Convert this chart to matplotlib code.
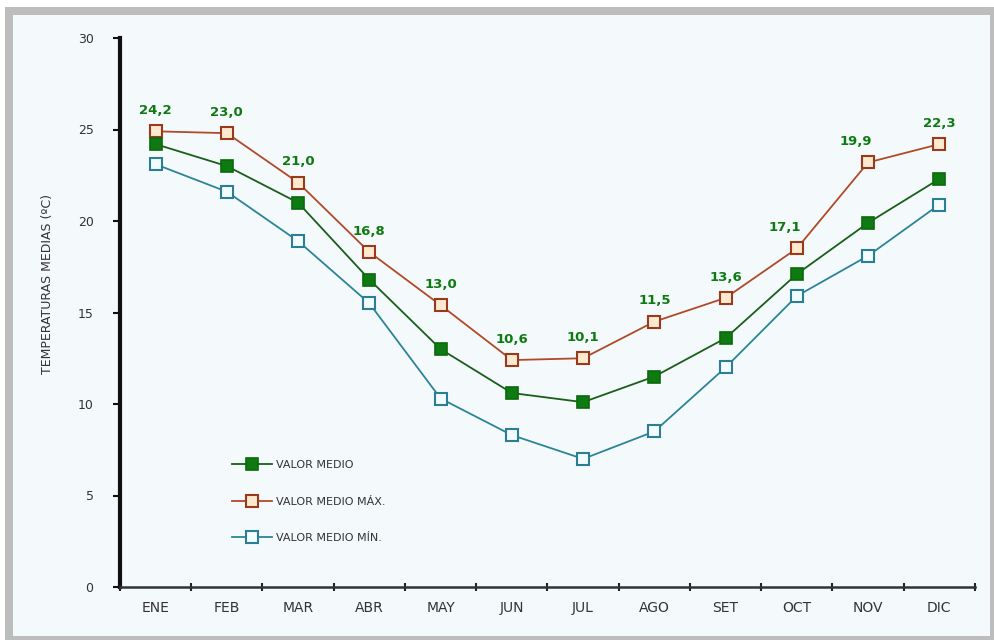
import matplotlib
matplotlib.use("Agg")
import matplotlib.pyplot as plt
from matplotlib.patches import Rectangle

months = ["ENE", "FEB", "MAR", "ABR", "MAY", "JUN", "JUL", "AGO", "SET", "OCT", "NOV", "DIC"]
medio = [24.2, 23.0, 21.0, 16.8, 13.0, 10.6, 10.1, 11.5, 13.6, 17.1, 19.9, 22.3]
medio_max = [24.9, 24.8, 22.1, 18.3, 15.4, 12.4, 12.5, 14.5, 15.8, 18.5, 23.2, 24.2]
medio_min = [23.1, 21.6, 18.9, 15.5, 10.3, 8.3, 7.0, 8.5, 12.0, 15.9, 18.1, 20.9]
value_labels = ["24,2", "23,0", "21,0", "16,8", "13,0", "10,6", "10,1", "11,5", "13,6", "17,1", "19,9", "22,3"]
yticks = [0, 5, 10, 15, 20, 25, 30]
series_names = ["VALOR MEDIO", "VALOR MEDIO MÁX.", "VALOR MEDIO MÍN."]

W, H = 995, 640
fig = plt.figure(figsize=(W / 100, H / 100), dpi=100)
fig.patch.set_facecolor("white")
# outer gray frame and light panel
fig.patches.append(Rectangle((5 / W, 0), (W - 5) / W, (H - 7) / H, transform=fig.transFigure,
                             facecolor="#bdbdbd", edgecolor="none", zorder=-3))
fig.patches.append(Rectangle((13 / W, (H - 636) / H), (990 - 13) / W, (636 - 15) / H,
                             transform=fig.transFigure, facecolor="#f4f9fc", edgecolor="none", zorder=-2))

ax = fig.add_axes([120 / W, 1 - 587 / H, (975 - 120) / W, (587 - 38) / H])
ax.set_facecolor("none")
ax.set_zorder(1)
x = list(range(len(months)))

green = "#0f7a12"
brown = "#b04a28"
teal = "#2b8597"

ax.plot(x, medio_max, color=brown, lw=1.3, marker="s", ms=8, mfc="#fde9cf", mec="#9a3a1c", mew=1.5,
        label=series_names[1], zorder=3)
ax.plot(x, medio, color="#1a5e1a", lw=1.3, marker="s", ms=8, mfc=green, mec="#0b6a0b", mew=1.2,
        label=series_names[0], zorder=4)
ax.plot(x, medio_min, color=teal, lw=1.3, marker="s", ms=8, mfc="#f2fbfd", mec="#2a7f95", mew=1.5,
        label=series_names[2], zorder=3)

dx = [0, 0, 0, 0, 0, 0, 0, 0, 0, -9, -9, 0]
for i, (lab, ym) in enumerate(zip(value_labels, medio_max)):
    ax.annotate(lab, (x[i], ym), xytext=(dx[i], 15), textcoords="offset points", ha="center", va="center",
                color=green, fontsize=9.5, fontweight="bold", family="DejaVu Sans")

ax.set_xlim(-0.5, 11.5)
ax.set_ylim(0, 30)
ax.set_yticks(yticks)
ax.set_yticklabels([str(v) for v in yticks], fontsize=9, color="#333333")
ax.set_xticks(x)
ax.set_xticklabels(months, fontsize=10, color="#333333")
ax.set_xticks([i - 0.5 for i in range(13)], minor=True)
ax.tick_params(axis="x", which="major", length=0, pad=10)
ax.tick_params(axis="x", which="minor", length=6, width=1.5, direction="inout", color="#222222")
ax.tick_params(axis="y", length=5, width=1.5, direction="out", pad=14, color="#111111")

for s in ["top", "right"]:
    ax.spines[s].set_visible(False)
ax.spines["left"].set_linewidth(3)
ax.spines["left"].set_color("#111111")
ax.spines["bottom"].set_linewidth(1.8)
ax.spines["bottom"].set_color("#333333")

fig.text(48 / W, 1 - 284 / H, "TEMPERATURAS MEDIAS (ºC)", rotation=90, ha="center", va="center",
         fontsize=9, color="#333333")

handles, labels = ax.get_legend_handles_labels()
order = [1, 0, 2]
leg = ax.legend([handles[i] for i in order], [labels[i] for i in order], loc="upper left",
                bbox_to_anchor=(222 / W, 1 - 450 / H), bbox_transform=fig.transFigure,
                frameon=False, fontsize=8, handlelength=3.6, labelspacing=2.4, handletextpad=0.4)
for t in leg.get_texts():
    t.set_color("#333333")

fig.savefig("out.png", dpi=100)
